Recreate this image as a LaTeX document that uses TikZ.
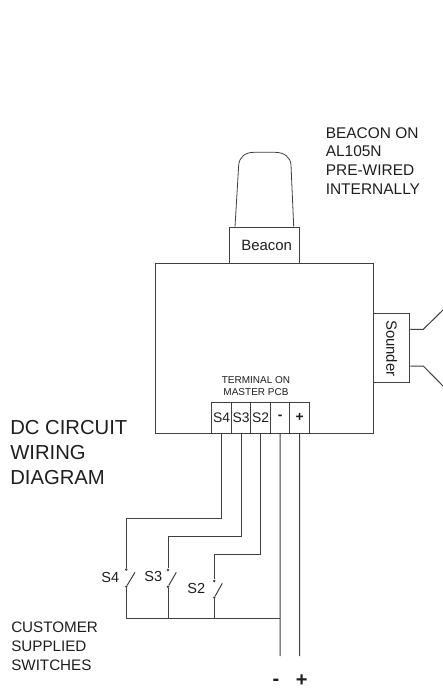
\documentclass[tikz,border=0pt]{standalone}
\usepackage{fontspec}
\setmainfont{Liberation Sans}
\definecolor{ink}{gray}{0.25}
\definecolor{txt}{gray}{0.12}
\newcommand{\fs}[2]{\fontsize{#1pt}{#2pt}\selectfont}
\tikzset{
  wire/.style={draw=ink,line width=0.75pt},
  box/.style={draw=ink,line width=0.75pt,rectangle,inner sep=0pt,anchor=north west,text=txt},
  term/.style={box,minimum height=23.25pt,font=\fs{10.4}{12}},
  contact/.style={circle,fill=ink,inner sep=0pt,minimum size=2pt},
  lbl/.style={inner sep=0pt,text=txt,align=left,anchor=north west}
}
\begin{document}
\begin{tikzpicture}[x=0.75pt,y=-0.75pt]
\useasboundingbox[fill=white] (0,0) rectangle (443,690);
% enclosure
\node[box,minimum width=163.2pt,minimum height=127.5pt] (main) at (155.4,262.7) {};
\node[box,minimum width=52.2pt,minimum height=27pt,font=\fs{11.2}{13}] (beacon) at (229.4,226.7) {\hspace*{3pt}Beacon};
\node[box,minimum width=27pt,minimum height=51.75pt] (sounder) at (373.3,313.3) {\rotatebox{-90}{\fs{11.2}{13}Sounder}};
% beacon dome
\draw[wire,line width=0.6pt] (235,226.7) -- (238.7,165)
  .. controls (239.5,157) and (245,152.3) .. (254,152.3)
  -- (275,152.3)
  .. controls (284,152.3) and (290.5,157) .. (291,165)
  -- (293.7,226.7);
% sounder horn
\coordinate (hu) at (423.3,329.3);
\coordinate (hl) at (423.3,366);
\coordinate (hue) at (443,310);
\coordinate (hle) at (443,386);
\draw[wire] (sounder.east |- hu) -- (hu) -- (hue);
\draw[wire] (sounder.east |- hl) -- (hl) -- (hle);
% terminals
\node[term,minimum width=14.7pt] (t4) at (211.4,401.7) {\raisebox{-0.7pt}{S4}};
\node[term,minimum width=14.25pt] (t3) at (231,401.7) {\raisebox{-0.7pt}{S3}};
\node[term,minimum width=15pt] (t2) at (250,401.7) {\raisebox{-0.7pt}{S2}};
\node[term,minimum width=14.55pt] (tm) at (270,401.7) {\raisebox{-0.7pt}{\bfseries -}};
\node[term,minimum width=14.7pt] (tp) at (289.4,401.7) {\raisebox{-0.7pt}{\bfseries +}};
% switch contacts
\node[contact] (s4a) at (126.3,569.5) {};
\node[contact] (s4b) at (126.3,586.7) {};
\node[contact] (s3a) at (168,570) {};
\node[contact] (s3b) at (168,586.7) {};
\node[contact] (s2a) at (214.3,581) {};
\node[contact] (s2b) at (214.3,597.7) {};
\coordinate (c4) at (126.3,518);
\coordinate (c3) at (168,536.3);
\coordinate (c2) at (214.3,554.3);
\coordinate (l4) at (135,572.3);
\coordinate (l3) at (176.3,572.3);
\coordinate (l2) at (222.3,583.3);
\coordinate (b4) at (126.3,618.7);
\coordinate (b3) at (168,618.7);
\coordinate (b2) at (214.3,618.7);
\coordinate (bm) at (280,618.7);
\coordinate (em) at (280,656);
\coordinate (ep) at (299.7,656);
\draw[wire] (t4.south) |- (c4) -- (s4a);
\draw[wire] (t3.south) |- (c3) -- (s3a);
\draw[wire] (t2.south) |- (c2) -- (s2a);
\draw[wire] (s4b) -- (l4);
\draw[wire] (s3b) -- (l3);
\draw[wire] (s2b) -- (l2);
\draw[wire] (s4b) -- (b4) -- (b3) -- (b2) -- (bm);
\draw[wire] (s3b) -- (b3);
\draw[wire] (s2b) -- (b2);
\draw[wire] (tm.south) -- (em);
\draw[wire] (tp.south) -- (ep);
% labels
\node[lbl,font=\fs{11.6}{14}] (noteb) at (325.5,127) {BEACON ON\\AL105N\\PRE-WIRED\\INTERNALLY};
\node[lbl,align=center,anchor=south,font=\fs{7.5}{9}] (notet) at (256,395.5) {TERMINAL ON\\MASTER PCB};
\node[lbl,font=\fs{15.2}{18.75}] (title) at (10,420.5) {DC CIRCUIT\\WIRING\\DIAGRAM};
\node[lbl,font=\fs{11.4}{14.1}] (cust) at (11,622) {CUSTOMER\\SUPPLIED\\SWITCHES};
\node[lbl,anchor=east,font=\fs{10.9}{13}] (ls4) at (119.5,577) {S4};
\node[lbl,anchor=east,font=\fs{10.9}{13}] (ls3) at (162.5,576) {S3};
\node[lbl,anchor=east,font=\fs{10.9}{13}] (ls2) at (205.5,588) {S2};
\node[lbl,anchor=center,font=\fs{15}{18}\bfseries] (lm) at (276,682) {-};
\node[lbl,anchor=center,font=\fs{15}{18}\bfseries] (lp) at (301.7,681) {+};
\end{tikzpicture}
\end{document}
